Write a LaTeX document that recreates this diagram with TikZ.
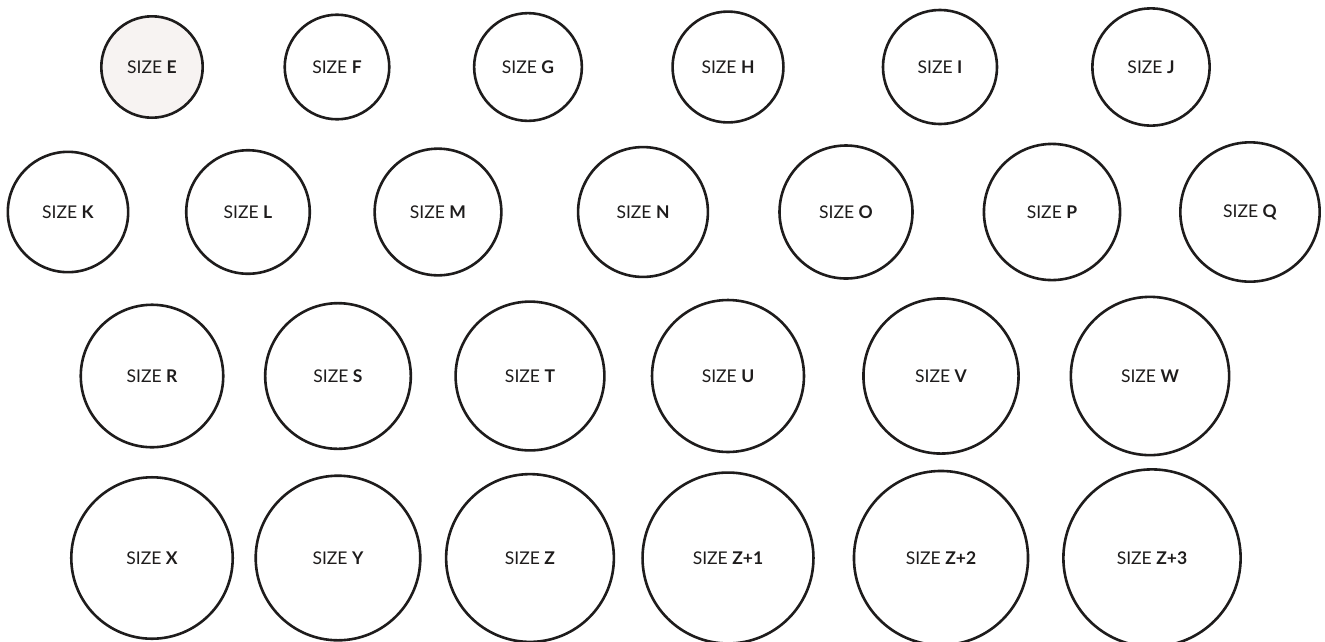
\documentclass[tikz,border=0pt]{standalone}
\usepackage{fontspec}
\setmainfont{Lato}
\definecolor{ink}{HTML}{1E1C1C}
\definecolor{blush}{HTML}{F7F3F2}
\tikzset{
  sizering/.style={circle, draw=ink, line width=2.6pt, inner sep=0pt,
    font=\fontsize{17.5}{20}\selectfont, text=ink},
}
\newcommand{\szlabel}[1]{SIZE \textbf{#1}}
\begin{document}
\begin{tikzpicture}[x=1pt,y=-1pt]
\useasboundingbox (0,0) rectangle (1325,641);
\fill[white] (0,0) rectangle (1325,641);
\foreach \nm/\cx/\cy/\k/\lab/\fc in {
  E/152/67/0/E/blush, F/337/67/1/F/white, G/528/67/2/G/white, H/728/67/3/H/white, I/940/67/4/I/white, J/1151/67/5/J/white,
  K/68/212/6/K/white, L/248/212/7/L/white, M/438/212/8/M/white, N/643/212/9/N/white, O/846/212/10/O/white, P/1052/212/11/P/white, Q/1250/212/12/Q/white,
  R/152/376/13/R/white, S/338/376/14/S/white, T/530/376/15/T/white, U/728/376/16/U/white, V/941/376/17/V/white, W/1150/376/18/W/white,
  X/152/558/19/X/white, Y/338/558/20/Y/white, Z/530/558/21/Z/white, Zp1/728/558/22/Z+1/white, Zp2/941/558/23/Z+2/white, Zp3/1152/558/24/Z+3/white}
{
  \pgfmathsetmacro{\dia}{2*(52+1.58*\k-1.3)}
  \node[sizering, fill=\fc, minimum size=\dia pt] (n\nm) at (\cx,\cy) {\szlabel{\lab}};
}
\end{tikzpicture}
\end{document}
